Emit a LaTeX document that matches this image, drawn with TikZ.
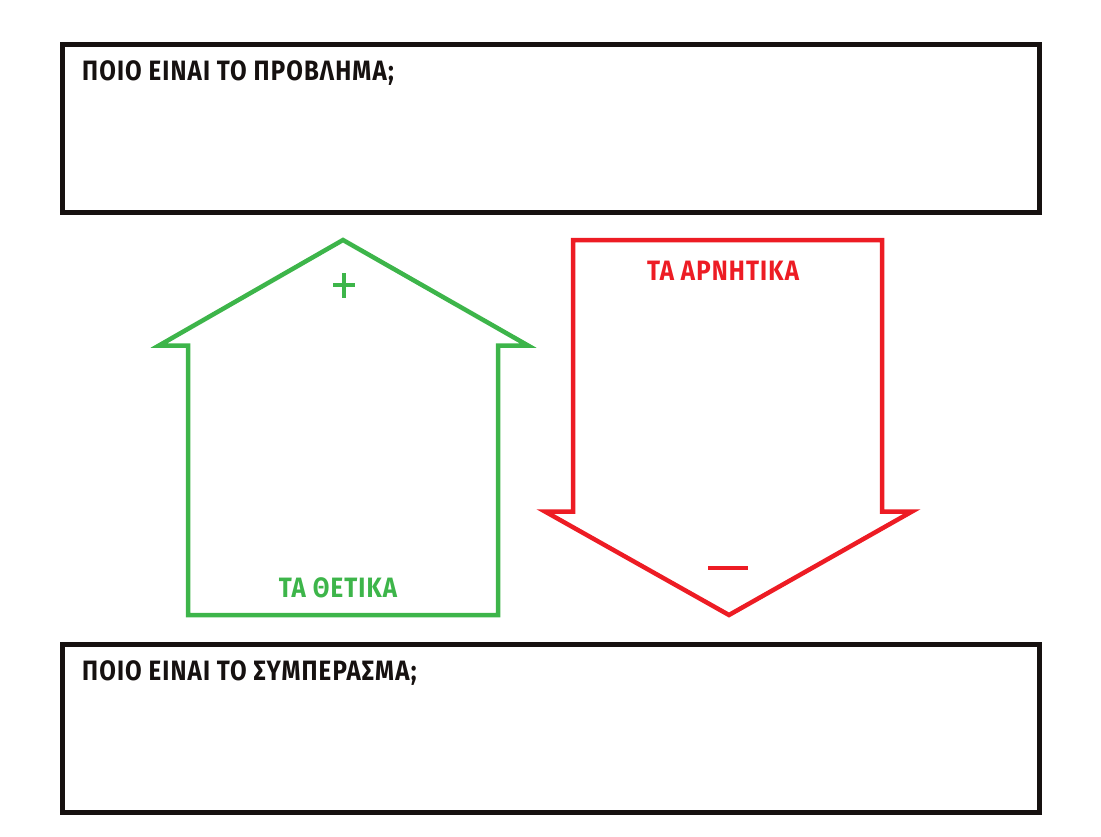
\documentclass[tikz,border=0pt]{standalone}
\usepackage{fontspec}
\newfontfamily\hand[FakeStretch=0.86,LetterSpace=4]{Fira Sans}
\definecolor{ink}{HTML}{161110}
\definecolor{posgreen}{HTML}{3DB54A}
\definecolor{negred}{HTML}{ED1C24}
\tikzset{
  framebox/.style={draw=ink, line width=5pt, inner sep=0pt, minimum width=977pt},
  label/.style={inner sep=0pt, font=\hand\bfseries\fontsize{28}{30}\selectfont},
  posshape/.style={draw=posgreen, line width=4.5pt, line join=miter},
  negshape/.style={draw=negred, line width=4.5pt, line join=miter},
}
\begin{document}
\begin{tikzpicture}[x=1pt,y=-1pt]
\useasboundingbox (0,0) rectangle (1101,836);
% boxes
\node[framebox, minimum height=168.5pt] (problem) at (551,128.25) {};
\node[framebox, minimum height=167.5pt] (conclusion) at (551,728.25) {};
\node[label, text=ink, anchor=base west] (problemtext) at (82,80) {ΠΟΙΟ ΕΙΝΑΙ ΤΟ ΠΡΟΒΛΗΜΑ;};
\node[label, text=ink, anchor=base west] (conclusiontext) at (82,680) {ΠΟΙΟ ΕΙΝΑΙ ΤΟ ΣΥΜΠΕΡΑΣΜΑ;};
% green up-arrow house
\draw[posshape] (343,240) -- (528,345.5) -- (498,345.5) -- (498,615) -- (188,615) -- (188,345.5) -- (159,345.5) -- cycle;
\node[label, text=posgreen, anchor=base] (postext) at (338,597) {ΤΑ ΘΕΤΙΚΑ};
\coordinate (plus) at (344,285);
\draw[posgreen, line width=4.5pt] ([xshift=-11pt]plus) -- ([xshift=11pt]plus);
\draw[posgreen, line width=4.5pt] ([yshift=-12.5pt]plus) -- ([yshift=12.5pt]plus);
% red down-arrow
\draw[negshape] (573,240) -- (882,240) -- (882,511.5) -- (912,511.5) -- (729,615) -- (545,511.5) -- (573,511.5) -- cycle;
\node[label, text=negred, anchor=base] (negtext) at (723,280) {ΤΑ ΑΡΝΗΤΙΚΑ};
\coordinate (minus) at (728,568);
\draw[negred, line width=4.5pt] ([xshift=-20pt]minus) -- ([xshift=20pt]minus);
\end{tikzpicture}
\end{document}
